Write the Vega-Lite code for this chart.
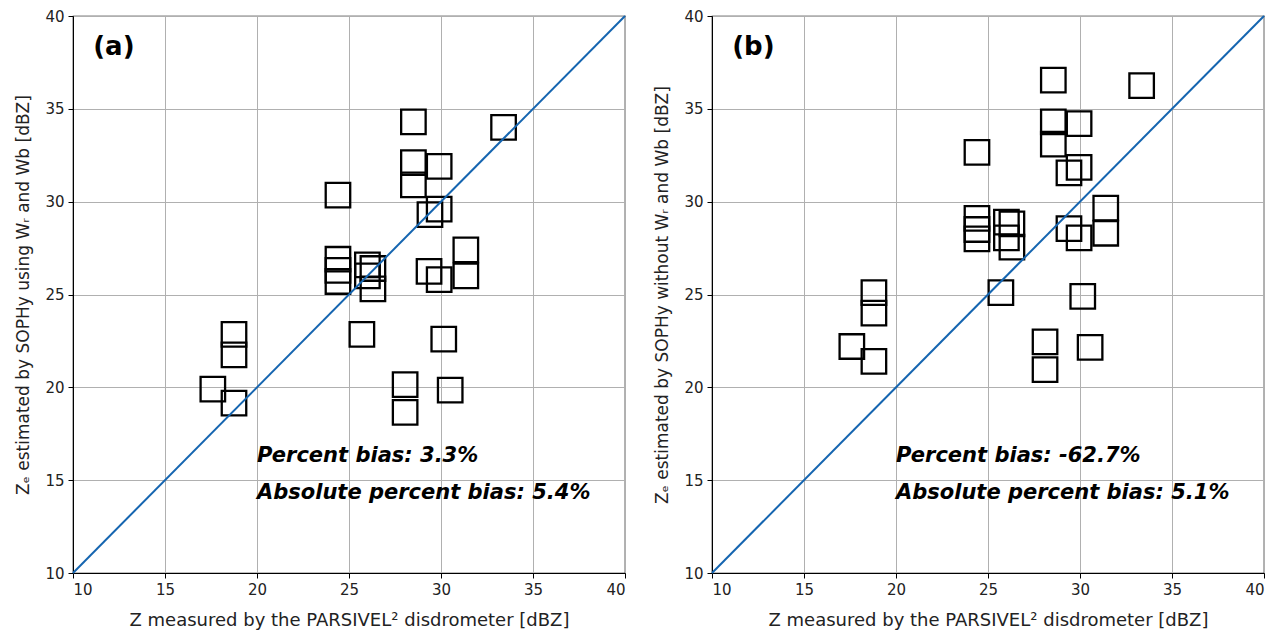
{
  "$schema": "https://vega.github.io/schema/vega-lite/v6.json",
  "background": "white",
  "padding": {"left": 14, "top": 8, "right": 5, "bottom": 2},
  "config": {
    "font": "DejaVu Sans",
    "view": {"stroke": "black", "strokeWidth": 1.2},
    "axis": {
      "grid": true, "gridColor": "#b0b0b0", "gridWidth": 1, "gridOpacity": 1,
      "domainColor": "black", "tickColor": "black", "tickSize": 5,
      "labelFont": "DejaVu Sans", "labelFontSize": 15, "labelColor": "#222",
      "titleFont": "DejaVu Sans", "titleFontWeight": "normal", "titleColor": "#222",
      "labelPadding": 4
    },
    "axisX": {"titleFontSize": 18, "titlePadding": 14},
    "axisY": {"titleFontSize": 17, "titlePadding": 12},
    "concat": {"spacing": 26}
  },
  "datasets": {
    "a": [
      {"x": 28.5, "y": 34.3}, {"x": 33.4, "y": 34.0}, {"x": 28.5, "y": 32.1}, {"x": 28.5, "y": 30.9},
      {"x": 29.9, "y": 31.9}, {"x": 24.4, "y": 30.35}, {"x": 29.9, "y": 29.6}, {"x": 29.4, "y": 29.3},
      {"x": 24.4, "y": 26.9}, {"x": 24.4, "y": 26.3}, {"x": 24.4, "y": 25.7},
      {"x": 26.0, "y": 26.6}, {"x": 26.3, "y": 26.4}, {"x": 26.0, "y": 26.0}, {"x": 26.3, "y": 25.3},
      {"x": 25.7, "y": 22.85}, {"x": 18.75, "y": 22.85}, {"x": 18.75, "y": 21.75},
      {"x": 17.6, "y": 19.9}, {"x": 18.75, "y": 19.15}, {"x": 30.15, "y": 22.6},
      {"x": 28.05, "y": 20.15}, {"x": 28.05, "y": 18.65}, {"x": 30.5, "y": 19.85},
      {"x": 29.35, "y": 26.25}, {"x": 29.9, "y": 25.8}, {"x": 31.35, "y": 27.4}, {"x": 31.35, "y": 26.0}
    ],
    "b": [
      {"x": 28.55, "y": 36.55}, {"x": 33.35, "y": 36.25}, {"x": 28.55, "y": 34.3}, {"x": 28.55, "y": 33.1},
      {"x": 29.95, "y": 34.2}, {"x": 24.4, "y": 32.65}, {"x": 29.95, "y": 31.85}, {"x": 29.4, "y": 31.55},
      {"x": 24.4, "y": 29.1}, {"x": 24.4, "y": 28.5}, {"x": 24.4, "y": 28.0},
      {"x": 26.0, "y": 28.9}, {"x": 26.3, "y": 28.8}, {"x": 26.0, "y": 28.05}, {"x": 26.3, "y": 27.55},
      {"x": 25.7, "y": 25.1}, {"x": 18.8, "y": 25.1}, {"x": 18.8, "y": 24.0},
      {"x": 17.6, "y": 22.2}, {"x": 18.8, "y": 21.4}, {"x": 30.15, "y": 24.9},
      {"x": 28.1, "y": 22.45}, {"x": 28.1, "y": 20.95}, {"x": 30.55, "y": 22.15},
      {"x": 29.4, "y": 28.55}, {"x": 29.95, "y": 28.05}, {"x": 31.4, "y": 29.65}, {"x": 31.4, "y": 28.3}
    ],
    "one": [{}]
  },
  "hconcat": [
    {
      "width": 552, "height": 557,
      "layer": [
        {
          "data": {"name": "a"},
          "mark": {"type": "point", "shape": "square", "filled": false, "size": 600, "stroke": "black", "strokeWidth": 2.3, "opacity": 1},
          "encoding": {
            "x": {"field": "x", "type": "quantitative", "scale": {"domain": [10, 40], "nice": false, "zero": false},
                  "axis": {"values": [10, 15, 20, 25, 30, 35, 40], "title": "Z measured by the PARSIVEL² disdrometer [dBZ]"}},
            "y": {"field": "y", "type": "quantitative", "scale": {"domain": [10, 40], "nice": false, "zero": false},
                  "axis": {"values": [10, 15, 20, 25, 30, 35, 40], "title": "Zₑ estimated by SOPHy using Wᵣ and Wb [dBZ]"}}
          }
        },
        {
          "data": {"name": "one"},
          "mark": {"type": "rule", "color": "#1565b0", "strokeWidth": 2},
          "encoding": {"x": {"datum": 10, "type": "quantitative"}, "y": {"datum": 10, "type": "quantitative"}, "x2": {"datum": 40}, "y2": {"datum": 40}}
        },
        {
          "data": {"name": "one"},
          "mark": {"type": "text", "font": "DejaVu Sans", "fontWeight": "bold", "fontSize": 26, "align": "left", "baseline": "alphabetic"},
          "encoding": {"x": {"datum": 11.1, "type": "quantitative"}, "y": {"datum": 37.9, "type": "quantitative"}, "text": {"value": "(a)"}}
        },
        {
          "data": {"name": "one"},
          "mark": {"type": "text", "font": "DejaVu Sans", "fontWeight": "bold", "fontStyle": "italic", "fontSize": 21, "align": "left", "baseline": "alphabetic"},
          "encoding": {"x": {"datum": 20, "type": "quantitative"}, "y": {"datum": 16, "type": "quantitative"}, "text": {"value": "Percent bias: 3.3%"}}
        },
        {
          "data": {"name": "one"},
          "mark": {"type": "text", "font": "DejaVu Sans", "fontWeight": "bold", "fontStyle": "italic", "fontSize": 21, "align": "left", "baseline": "alphabetic"},
          "encoding": {"x": {"datum": 20, "type": "quantitative"}, "y": {"datum": 14, "type": "quantitative"}, "text": {"value": "Absolute percent bias: 5.4%"}}
        }
      ]
    },
    {
      "width": 552, "height": 557,
      "layer": [
        {
          "data": {"name": "b"},
          "mark": {"type": "point", "shape": "square", "filled": false, "size": 600, "stroke": "black", "strokeWidth": 2.3, "opacity": 1},
          "encoding": {
            "x": {"field": "x", "type": "quantitative", "scale": {"domain": [10, 40], "nice": false, "zero": false},
                  "axis": {"values": [10, 15, 20, 25, 30, 35, 40], "title": "Z measured by the PARSIVEL² disdrometer [dBZ]"}},
            "y": {"field": "y", "type": "quantitative", "scale": {"domain": [10, 40], "nice": false, "zero": false},
                  "axis": {"values": [10, 15, 20, 25, 30, 35, 40], "title": "Zₑ estimated by SOPHy without Wᵣ and Wb [dBZ]"}}
          }
        },
        {
          "data": {"name": "one"},
          "mark": {"type": "rule", "color": "#1565b0", "strokeWidth": 2},
          "encoding": {"x": {"datum": 10, "type": "quantitative"}, "y": {"datum": 10, "type": "quantitative"}, "x2": {"datum": 40}, "y2": {"datum": 40}}
        },
        {
          "data": {"name": "one"},
          "mark": {"type": "text", "font": "DejaVu Sans", "fontWeight": "bold", "fontSize": 26, "align": "left", "baseline": "alphabetic"},
          "encoding": {"x": {"datum": 11.1, "type": "quantitative"}, "y": {"datum": 37.9, "type": "quantitative"}, "text": {"value": "(b)"}}
        },
        {
          "data": {"name": "one"},
          "mark": {"type": "text", "font": "DejaVu Sans", "fontWeight": "bold", "fontStyle": "italic", "fontSize": 21, "align": "left", "baseline": "alphabetic"},
          "encoding": {"x": {"datum": 20, "type": "quantitative"}, "y": {"datum": 16, "type": "quantitative"}, "text": {"value": "Percent bias: -62.7%"}}
        },
        {
          "data": {"name": "one"},
          "mark": {"type": "text", "font": "DejaVu Sans", "fontWeight": "bold", "fontStyle": "italic", "fontSize": 21, "align": "left", "baseline": "alphabetic"},
          "encoding": {"x": {"datum": 20, "type": "quantitative"}, "y": {"datum": 14, "type": "quantitative"}, "text": {"value": "Absolute percent bias: 5.1%"}}
        }
      ]
    }
  ]
}
